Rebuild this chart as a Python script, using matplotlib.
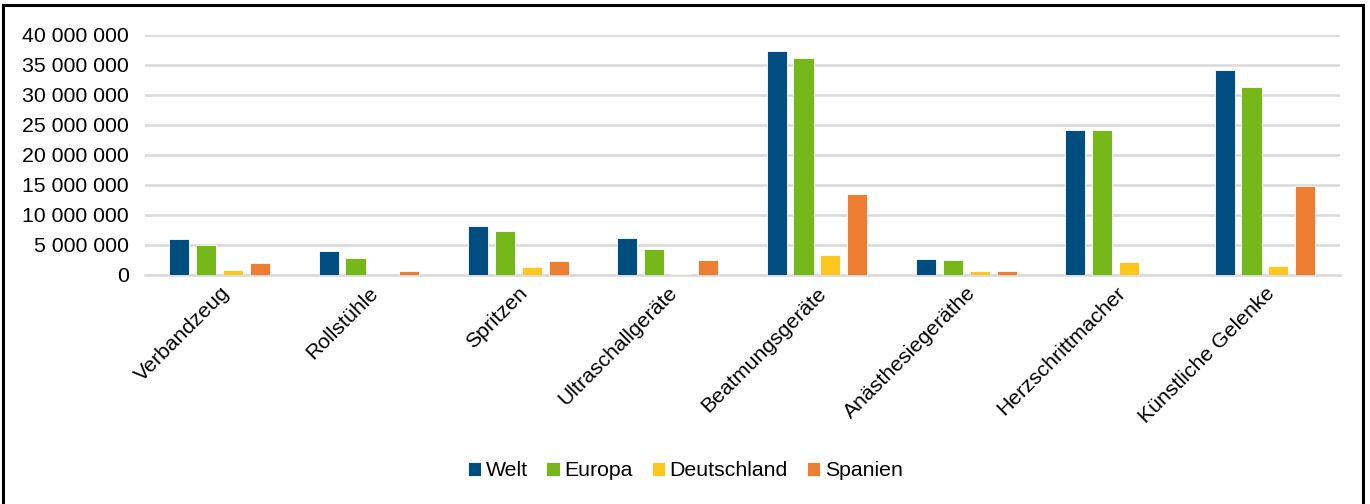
import matplotlib.pyplot as plt
import matplotlib.ticker as ticker
from matplotlib.patches import Rectangle
import numpy as np

# Data
categories = ['Verbandzeug', 'Rollstühle', 'Spritzen', 'Ultraschallgeräte',
              'Beatmungsgeräte', 'Anästhesiegeräthe', 'Herzschrittmacher', 'Künstliche Gelenke']
welt = [6.0e6, 3.95e6, 8.1e6, 6.2e6, 37.3e6, 2.65e6, 24.2e6, 34.2e6]
europa = [5.0e6, 2.85e6, 7.4e6, 4.35e6, 36.1e6, 2.55e6, 24.2e6, 31.4e6]
deutschland = [0.85e6, 0.0, 1.35e6, 0.2e6, 3.35e6, 0.7e6, 2.1e6, 1.45e6]
spanien = [2.05e6, 0.65e6, 2.3e6, 2.55e6, 13.5e6, 0.65e6, 0.0, 14.8e6]

series = [('Welt', welt, '#004E7F'),
          ('Europa', europa, '#76B819'),
          ('Deutschland', deutschland, '#FFC71C'),
          ('Spanien', spanien, '#ED7D31')]

plt.rcParams['font.family'] = ['Liberation Sans', 'DejaVu Sans']
fs = 15.3

fig = plt.figure(figsize=(13.7, 5.04), dpi=100)
ax = fig.add_axes([0.1058, 0.4544, 0.872, 0.4762])

x = np.arange(len(categories))
pitch = 0.18
width = 0.135
for i, (name, vals, col) in enumerate(series):
    ax.bar(x + (i - 1.5) * pitch, vals, width, color=col, label=name,
           edgecolor='white', linewidth=0.6, zorder=3)

ax.set_xlim(-0.5, len(categories) - 0.5)
ax.set_ylim(0, 40e6)
ax.yaxis.set_major_locator(ticker.MultipleLocator(5e6))
ax.yaxis.set_major_formatter(ticker.FuncFormatter(
    lambda v, p: f'{int(v):,}'.replace(',', ' ')))
ax.grid(axis='y', color='#D9D9D9', linewidth=1.8, zorder=0)
for s in ['top', 'right', 'left']:
    ax.spines[s].set_visible(False)
ax.spines['bottom'].set_color('#D9D9D9')
ax.spines['bottom'].set_linewidth(1.8)
ax.tick_params(axis='y', length=0, labelsize=fs, pad=11.7)
ax.tick_params(axis='x', length=0, labelsize=fs, pad=6)
ax.set_xticks(x)
ax.set_xticklabels(categories, rotation=45, ha='right', rotation_mode='anchor')

fig.legend(loc='center', bbox_to_anchor=(0.5, 0.066), ncol=4, frameon=False,
           fontsize=fs, handlelength=0.65, handleheight=0.65, handletextpad=0.2,
           columnspacing=0.88)

# outer frame
fig.patches.append(Rectangle((3 / 1370, -0.01), 1360 / 1370, 1 - 5 / 504 + 0.01,
                             transform=fig.transFigure, fill=False,
                             edgecolor='black', linewidth=2.2))

fig.savefig('out.png', dpi=100)
